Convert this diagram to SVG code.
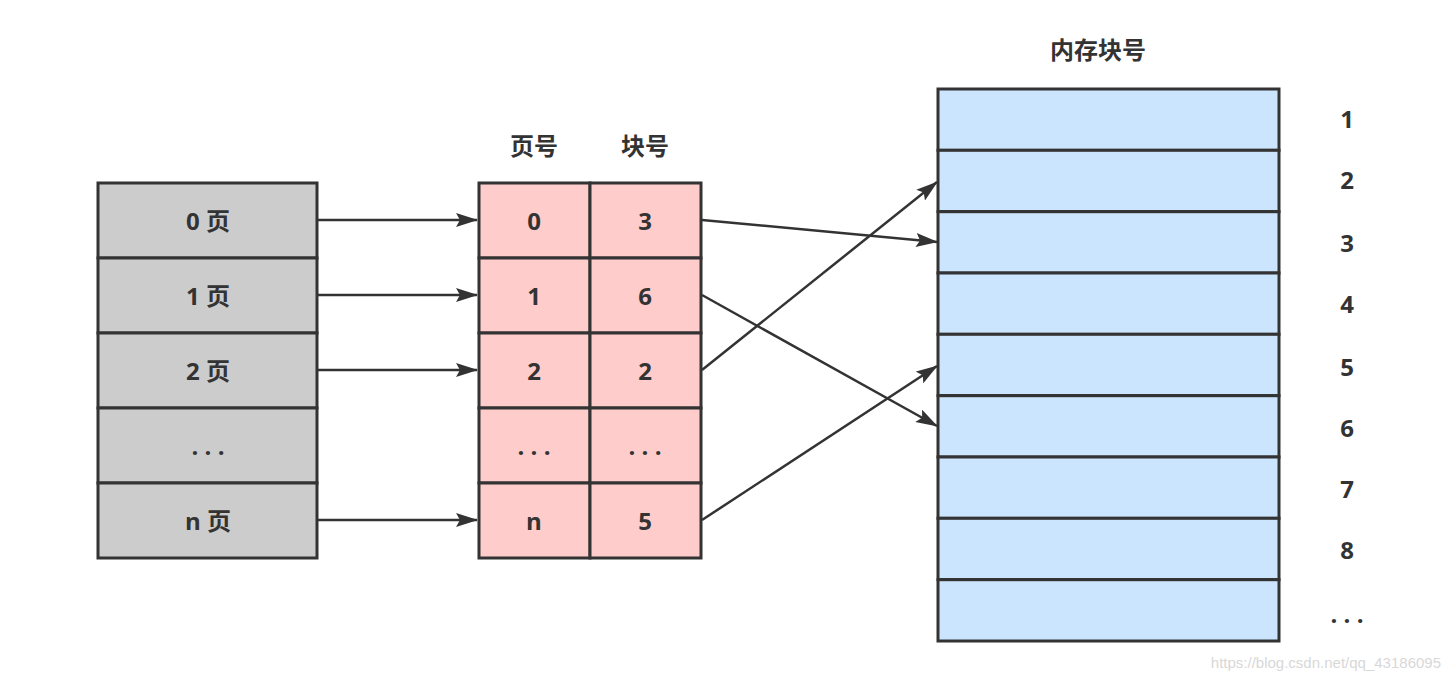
<svg xmlns="http://www.w3.org/2000/svg" width="1450" height="689" viewBox="0 0 1450 689">
<defs>
<marker id="ah" viewBox="0 0 22 14" refX="21" refY="7" markerWidth="22" markerHeight="14" markerUnits="userSpaceOnUse" orient="auto">
<path d="M0,0 L22,7 L0,14 L4,7 Z" fill="#333333"/>
</marker>
<style>
.cell{stroke:#333333;stroke-width:3}
.g{fill:#cccccc}
.p{fill:#ffcccc}
.b{fill:#cce5ff}
.t{font-family:"Open Sans","Noto Sans CJK SC",sans-serif;font-weight:bold;font-size:24px;fill:#333333;text-anchor:middle;dominant-baseline:central}
.c{stroke:#333333;stroke-width:2.5;fill:none;marker-end:url(#ah)}
</style>
</defs>
<rect width="1450" height="689" fill="#ffffff"/>
<g id="pages">
<rect class="cell g" x="98" y="183" width="219" height="75"/>
<rect class="cell g" x="98" y="258" width="219" height="75"/>
<rect class="cell g" x="98" y="333" width="219" height="75"/>
<rect class="cell g" x="98" y="408" width="219" height="75"/>
<rect class="cell g" x="98" y="483" width="219" height="75"/>
<text class="t" x="208" y="220">0 页</text>
<text class="t" x="208" y="295">1 页</text>
<text class="t" x="208" y="370">2 页</text>
<text class="t" x="208" y="445">. . .</text>
<text class="t" x="208" y="520">n 页</text>
</g>
<g id="pagetable">
<text class="t" x="534" y="145">页号</text>
<text class="t" x="645" y="145">块号</text>
<rect class="cell p" x="479" y="183" width="111" height="75"/>
<rect class="cell p" x="479" y="258" width="111" height="75"/>
<rect class="cell p" x="479" y="333" width="111" height="75"/>
<rect class="cell p" x="479" y="408" width="111" height="75"/>
<rect class="cell p" x="479" y="483" width="111" height="75"/>
<rect class="cell p" x="590" y="183" width="111" height="75"/>
<rect class="cell p" x="590" y="258" width="111" height="75"/>
<rect class="cell p" x="590" y="333" width="111" height="75"/>
<rect class="cell p" x="590" y="408" width="111" height="75"/>
<rect class="cell p" x="590" y="483" width="111" height="75"/>
<text class="t" x="534" y="220">0</text>
<text class="t" x="534" y="295">1</text>
<text class="t" x="534" y="370">2</text>
<text class="t" x="534" y="445">. . .</text>
<text class="t" x="534" y="520">n</text>
<text class="t" x="645" y="220">3</text>
<text class="t" x="645" y="295">6</text>
<text class="t" x="645" y="370">2</text>
<text class="t" x="645" y="445">. . .</text>
<text class="t" x="645" y="520">5</text>
</g>
<g id="memory">
<text class="t" x="1098" y="49">内存块号</text>
<rect class="cell b" x="938" y="89" width="341" height="61.3"/>
<rect class="cell b" x="938" y="150.3" width="341" height="61.3"/>
<rect class="cell b" x="938" y="211.7" width="341" height="61.3"/>
<rect class="cell b" x="938" y="273" width="341" height="61.3"/>
<rect class="cell b" x="938" y="334.3" width="341" height="61.3"/>
<rect class="cell b" x="938" y="395.7" width="341" height="61.3"/>
<rect class="cell b" x="938" y="457" width="341" height="61.3"/>
<rect class="cell b" x="938" y="518.3" width="341" height="61.3"/>
<rect class="cell b" x="938" y="579.7" width="341" height="61.3"/>
<text class="t" x="1347" y="118">1</text>
<text class="t" x="1347" y="179">2</text>
<text class="t" x="1347" y="242">3</text>
<text class="t" x="1347" y="303">4</text>
<text class="t" x="1347" y="366">5</text>
<text class="t" x="1347" y="427">6</text>
<text class="t" x="1347" y="488">7</text>
<text class="t" x="1347" y="549">8</text>
<text class="t" x="1347" y="613">. . .</text>
</g>
<g id="connectors">
<line class="c" x1="318" y1="220" x2="477" y2="220"/>
<line class="c" x1="318" y1="295" x2="477" y2="295"/>
<line class="c" x1="318" y1="370" x2="477" y2="370"/>
<line class="c" x1="318" y1="520" x2="477" y2="520"/>
<line class="c" x1="702" y1="220" x2="937" y2="242"/>
<line class="c" x1="702" y1="295" x2="937" y2="426"/>
<line class="c" x1="702" y1="370" x2="937" y2="182"/>
<line class="c" x1="702" y1="520" x2="937" y2="366"/>
</g>
<text x="1441" y="668" style="font-family:'Liberation Sans',Arial,sans-serif;font-size:15px;fill:#d8d8d8;text-anchor:end">https://blog.csdn.net/qq_43186095</text>
</svg>
